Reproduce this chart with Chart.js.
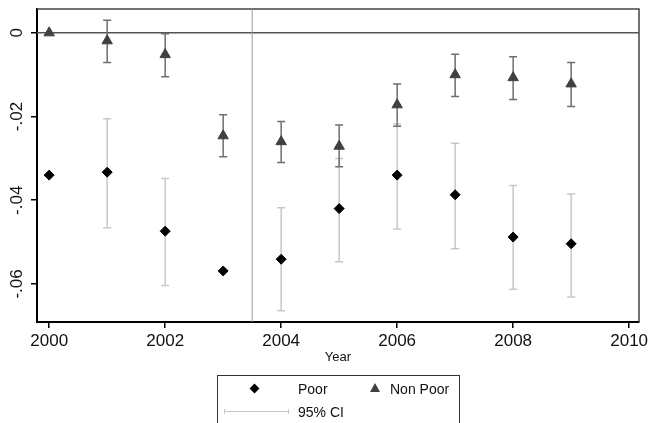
<!DOCTYPE html>
<html>
<head>
<meta charset="utf-8">
<script src="https://cdn.jsdelivr.net/npm/chart.js@4/dist/chart.umd.min.js"></script>
<style>
body { margin: 0; background: #fff; font-family: "Liberation Sans", Arial, sans-serif; }
#wrap { position: relative; width: 648px; height: 423px; overflow: hidden; background: #fff; }
#chart { position: absolute; left: 0; top: 0; }
.box { position: absolute; left: 217px; top: 375px; width: 243px; height: 60px; border: 1px solid #333; box-sizing: border-box; }
.txt { position: absolute; font-size: 14px; line-height: 14px; color: #111; white-space: nowrap; }
.dia { position: absolute; left: 251px; top: 385px; width: 7px; height: 7px; background: #000; transform: rotate(45deg); }
.tri { position: absolute; left: 370px; top: 383px; width: 0; height: 0; border-left: 5px solid transparent; border-right: 5px solid transparent; border-bottom: 9px solid #404040; }
.ci { position: absolute; left: 224px; top: 411px; width: 65px; height: 1px; background: #c8c8c8; }
.cap { position: absolute; top: 409px; width: 1px; height: 5px; background: #c8c8c8; }
</style>
</head>
<body>
<div id="wrap">
  <canvas id="chart" width="648" height="423"></canvas>
  <div class="box"></div>
  <div class="dia"></div>
  <span class="txt" style="left:298px; top:382px;">Poor</span>
  <div class="tri"></div>
  <span class="txt" style="left:390px; top:382px;">Non Poor</span>
  <div class="ci"></div>
  <div class="cap" style="left:224px;"></div>
  <div class="cap" style="left:288px;"></div>
  <span class="txt" style="left:298px; top:405px;">95% CI</span>
</div>
<script>
// данные с картинки
var years = [2000, 2001, 2002, 2003, 2004, 2005, 2006, 2007, 2008, 2009];

var poor   = [-0.0340, -0.0333, -0.0474, -0.0569, -0.0541, -0.0420, -0.0340, -0.0387, -0.0488, -0.0504];
var poorLo = [null, -0.0466, -0.0604, null, -0.0664, -0.0547, -0.0469, -0.0516, -0.0613, -0.0631];
var poorHi = [null, -0.0205, -0.0348, null, -0.0418, -0.0300, -0.0218, -0.0264, -0.0365, -0.0385];

var nonPoor   = [0, -0.0019, -0.0052, -0.0246, -0.0260, -0.0271, -0.0172, -0.0100, -0.0107, -0.0122];
var nonPoorLo = [null, -0.0071, -0.0105, -0.0296, -0.0310, -0.0320, -0.0223, -0.0152, -0.0159, -0.0176];
var nonPoorHi = [null, 0.0030, -0.0002, -0.0196, -0.0212, -0.0220, -0.0122, -0.0051, -0.0057, -0.0071];

var xTicks = [2000, 2002, 2004, 2006, 2008, 2010];
var yTicks = [0, -0.02, -0.04, -0.06];
var yTickText = ["0", "-.02", "-.04", "-.06"];

var cutYear = 2003.5;
var xMin = 1999.79, xMax = 2010.17;
var yMin = -0.0691, yMax = 0.0057;

function points(vals) {
  return years.map(function (yr, i) { return { x: yr, y: vals[i] }; });
}

// рисуем доверительные интервалы
function drawCI(ctx, sx, sy, lo, hi, color) {
  ctx.save();
  ctx.strokeStyle = color;
  ctx.lineWidth = 1.5;
  for (var i = 0; i < years.length; i++) {
    if (lo[i] == null) continue;
    var px = sx.getPixelForValue(years[i]);
    var p1 = sy.getPixelForValue(lo[i]);
    var p2 = sy.getPixelForValue(hi[i]);
    ctx.beginPath();
    ctx.moveTo(px, p1); ctx.lineTo(px, p2);
    ctx.moveTo(px - 4, p1); ctx.lineTo(px + 4, p1);
    ctx.moveTo(px - 4, p2); ctx.lineTo(px + 4, p2);
    ctx.stroke();
  }
  ctx.restore();
}

var extras = {
  id: 'extras',
  beforeDatasetsDraw: function (chart) {
    var ctx = chart.ctx, a = chart.chartArea;
    var sx = chart.scales.x, sy = chart.scales.y;
    ctx.save();
    // рамка сверху и справа
    ctx.strokeStyle = '#444';
    ctx.lineWidth = 1.5;
    ctx.beginPath();
    ctx.moveTo(a.left, a.top); ctx.lineTo(a.right, a.top); ctx.lineTo(a.right, a.bottom);
    ctx.stroke();
    // линия нуля
    var y0 = sy.getPixelForValue(0);
    ctx.strokeStyle = '#555';
    ctx.beginPath(); ctx.moveTo(a.left, y0); ctx.lineTo(a.right, y0); ctx.stroke();
    // вертикальная линия
    var xc = sx.getPixelForValue(cutYear);
    ctx.strokeStyle = '#999';
    ctx.lineWidth = 1;
    ctx.beginPath(); ctx.moveTo(xc, a.top); ctx.lineTo(xc, a.bottom); ctx.stroke();
    ctx.restore();

    drawCI(ctx, sx, sy, poorLo, poorHi, '#c8c8c8');
    drawCI(ctx, sx, sy, nonPoorLo, nonPoorHi, '#6e6e6e');
  },
  afterDraw: function (chart) {
    // подписи оси Y повернуты
    var ctx = chart.ctx, sy = chart.scales.y;
    ctx.save();
    ctx.fillStyle = '#111';
    ctx.font = '17px "Liberation Sans", Arial, sans-serif';
    ctx.textAlign = 'center';
    ctx.textBaseline = 'middle';
    for (var i = 0; i < yTicks.length; i++) {
      var py = sy.getPixelForValue(yTicks[i]);
      ctx.save();
      ctx.translate(17, py);
      ctx.rotate(-Math.PI / 2);
      ctx.fillText(yTickText[i], 0, 0);
      ctx.restore();
    }
    ctx.restore();
  }
};

window.onload = function () {
  new Chart(document.getElementById('chart'), {
    type: 'scatter',
    data: {
      datasets: [{
        label: 'Poor',
        data: points(poor),
        pointStyle: 'rectRot',
        pointRadius: 5,
        backgroundColor: '#000',
        borderColor: '#000',
        borderWidth: 1
      }, {
        label: 'Non Poor',
        data: points(nonPoor),
        pointStyle: 'triangle',
        pointRadius: 6,
        backgroundColor: '#404040',
        borderColor: '#404040',
        borderWidth: 1
      }]
    },
    options: {
      responsive: false,
      animation: false,
      layout: { padding: { top: 9, right: 9, left: 0, bottom: 0 } },
      plugins: { legend: { display: false }, tooltip: { enabled: false } },
      scales: {
        x: {
          type: 'linear',
          min: xMin, max: xMax,
          afterBuildTicks: function (s) { s.ticks = xTicks.map(function (v) { return { value: v }; }); },
          afterFit: function (s) { s.height = 101; s.paddingLeft = 0; s.paddingRight = 0; },
          grid: { drawOnChartArea: false, drawTicks: true, tickLength: 6, color: '#000', lineWidth: 1.5 },
          border: { color: '#000', width: 2 },
          ticks: {
            color: '#111', padding: 3, maxRotation: 0, autoSkip: false,
            font: { size: 17, family: '"Liberation Sans", Arial, sans-serif' },
            callback: function (v) { return String(v); }
          },
          title: {
            display: true, text: 'Year', color: '#111',
            font: { size: 13, family: '"Liberation Sans", Arial, sans-serif' },
            padding: { top: 0, bottom: 58 }
          }
        },
        y: {
          min: yMin, max: yMax,
          afterBuildTicks: function (s) { s.ticks = yTicks.map(function (v) { return { value: v }; }); },
          afterFit: function (s) { s.width = 37; },
          grid: { drawOnChartArea: false, drawTicks: true, tickLength: 6, color: '#000', lineWidth: 1.5 },
          border: { color: '#000', width: 2 },
          ticks: { display: false }
        }
      }
    },
    plugins: [extras]
  });
};
</script>
</body>
</html>
